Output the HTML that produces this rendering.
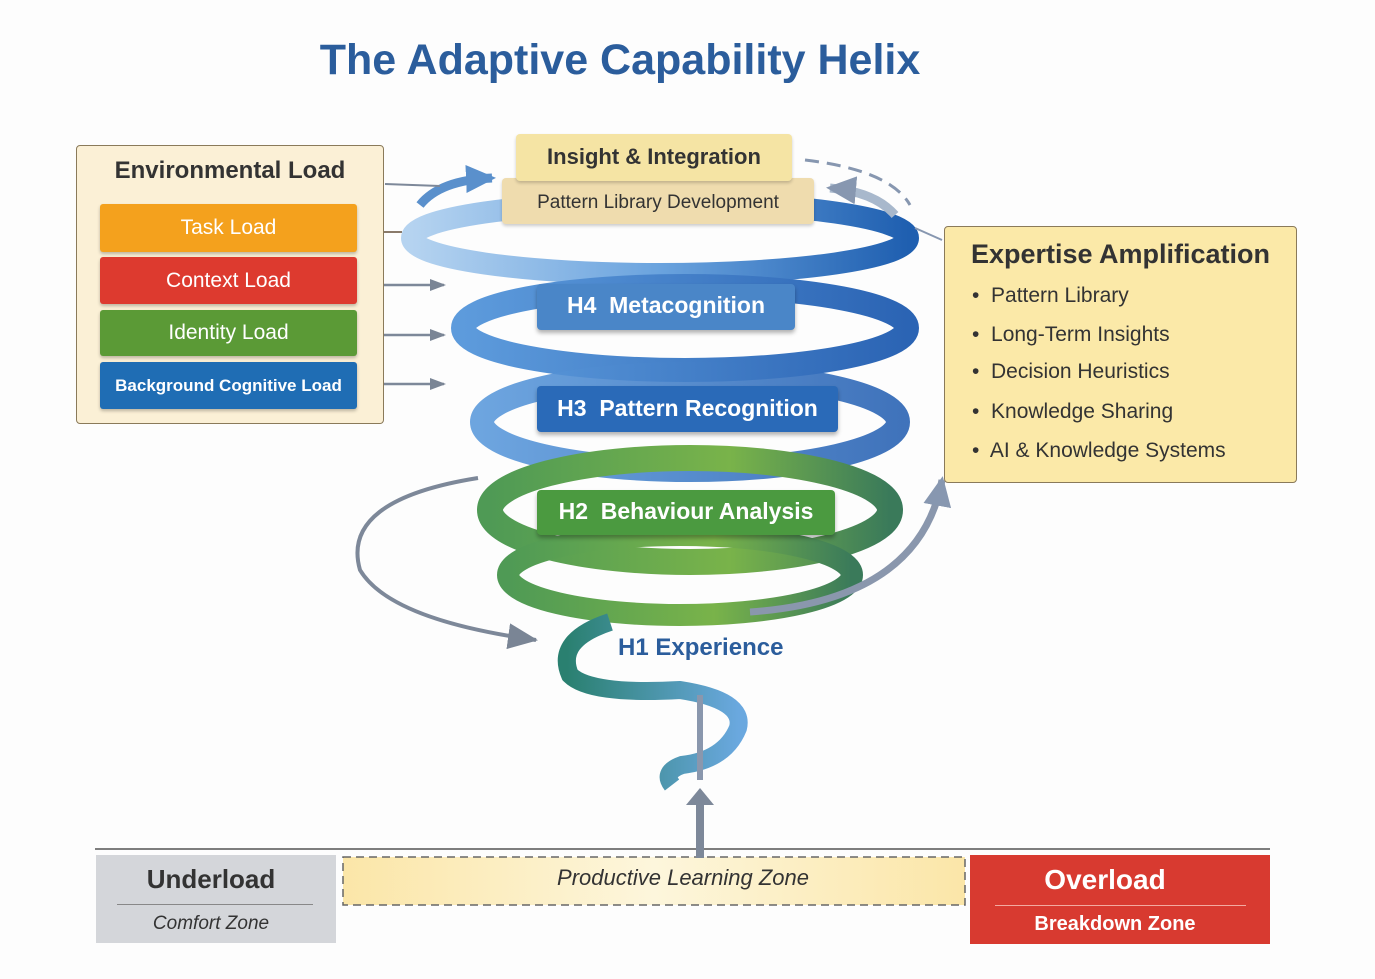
<!DOCTYPE html>
<html><head><meta charset="utf-8"><style>
html,body{margin:0;padding:0;background:#fdfdfd;}
body{width:1375px;height:979px;position:relative;overflow:hidden;font-family:"Liberation Sans",sans-serif;}
.abs{position:absolute;}
.bar{position:absolute;left:100px;width:257px;color:#fff;font-size:21px;text-align:center;border-radius:3px;box-shadow:0 2px 3px rgba(0,0,0,.25);}
.lbl{position:absolute;color:#fff;font-weight:bold;font-size:23px;border-radius:4px;box-shadow:0 3px 4px rgba(0,0,0,.3);}
.bul{position:absolute;left:972px;font-size:21px;color:#333;}
</style></head><body>
<svg class="abs" style="left:0;top:0" width="1375" height="979">
<defs>
<marker id="ah" markerUnits="userSpaceOnUse" markerWidth="16" markerHeight="14" refX="14" refY="7" orient="auto"><path d="M0,1 L16,7 L0,13 z" fill="#7a8595"/></marker>
<marker id="ahL" markerUnits="userSpaceOnUse" markerWidth="30" markerHeight="26" refX="28" refY="13" orient="auto"><path d="M0,0 L30,13 L0,26 z" fill="#7a8595"/></marker>
<marker id="ahb" markerUnits="userSpaceOnUse" markerWidth="30" markerHeight="28" refX="26" refY="14" orient="auto"><path d="M0,0 L30,14 L0,28 z" fill="#8797b0"/></marker>
<marker id="ahc" markerUnits="userSpaceOnUse" markerWidth="30" markerHeight="28" refX="26" refY="14" orient="auto"><path d="M0,0 L30,14 L0,28 z" fill="#5a90cc"/></marker>
<linearGradient id="blue" x1="0" x2="1"><stop offset="0" stop-color="#b5d3f0"/><stop offset="0.5" stop-color="#6aa3de"/><stop offset="1" stop-color="#1f5fb0"/></linearGradient>
<linearGradient id="blue2" x1="0" x2="1"><stop offset="0" stop-color="#5d9bdc"/><stop offset="1" stop-color="#2b64b4"/></linearGradient>
<linearGradient id="green" x1="0" x2="1"><stop offset="0" stop-color="#4f9a55"/><stop offset="0.6" stop-color="#79b34a"/><stop offset="1" stop-color="#3a7a5a"/></linearGradient>
<linearGradient id="teal" x1="0" x2="1"><stop offset="0" stop-color="#2a8070"/><stop offset="1" stop-color="#6aa8df"/></linearGradient>
<linearGradient id="pz" x1="0" x2="1"><stop offset="0" stop-color="#fbe6a8"/><stop offset="0.5" stop-color="#fdf6dc"/><stop offset="1" stop-color="#fbe6a8"/></linearGradient>
</defs>
<ellipse cx="660" cy="238" rx="248" ry="36" fill="none" stroke="url(#blue)" stroke-width="22"/>
<ellipse cx="685" cy="328" rx="222" ry="42" fill="none" stroke="url(#blue2)" stroke-width="24"/>
<ellipse cx="690" cy="422" rx="208" ry="48" fill="none" stroke="url(#blue2)" stroke-width="24" opacity="0.9"/>
<ellipse cx="690" cy="510" rx="200" ry="52" fill="none" stroke="url(#green)" stroke-width="26"/>
<ellipse cx="680" cy="575" rx="172" ry="40" fill="none" stroke="url(#green)" stroke-width="22"/>
<path d="M610,622 Q555,640 570,675 Q590,695 680,690 Q745,700 738,728 Q725,760 682,765 Q662,772 672,785" fill="none" stroke="url(#teal)" stroke-width="18"/>
<path d="M700,695 L700,780" stroke="#8a97ad" stroke-width="6"/>
<path d="M805,160 Q890,170 910,205" fill="none" stroke="#8797b0" stroke-width="3" stroke-dasharray="14 8"/>
<path d="M895,215 Q875,192 830,188" fill="none" stroke="#a8b8cc" stroke-width="9" marker-end="url(#ahb)"/>
<path d="M420,205 Q440,180 492,178" fill="none" stroke="#5a90cc" stroke-width="9" marker-end="url(#ahc)"/>
<path d="M478,478 Q340,500 360,570 Q390,620 536,640" fill="none" stroke="#7d8899" stroke-width="4" marker-end="url(#ahL)"/>
<path d="M750,612 Q920,600 942,480" fill="none" stroke="#8a97ad" stroke-width="7" marker-end="url(#ahb)"/>
<line x1="385" y1="184" x2="440" y2="186" stroke="#7d8899" stroke-width="2"/>
<line x1="362" y1="232" x2="402" y2="232" stroke="#8a7a6a" stroke-width="2"/>
<line x1="362" y1="285" x2="444" y2="285" stroke="#7d8899" stroke-width="2.5" marker-end="url(#ah)"/>
<line x1="362" y1="335" x2="444" y2="335" stroke="#7d8899" stroke-width="2.5" marker-end="url(#ah)"/>
<line x1="362" y1="384" x2="444" y2="384" stroke="#7d8899" stroke-width="2.5" marker-end="url(#ah)"/>
<line x1="82" y1="233" x2="95" y2="233" stroke="#8a7a6a" stroke-width="2"/>
<line x1="82" y1="285" x2="95" y2="285" stroke="#8a7a6a" stroke-width="2"/>
<line x1="82" y1="336" x2="95" y2="336" stroke="#8a7a6a" stroke-width="2"/>
<line x1="82" y1="386" x2="95" y2="386" stroke="#c9a040" stroke-width="2"/>
<line x1="915" y1="228" x2="942" y2="240" stroke="#8797b0" stroke-width="2"/>
<line x1="95" y1="849" x2="1270" y2="849" stroke="#555" stroke-width="1.5"/>
<rect x="343" y="857" width="622" height="48" fill="url(#pz)" stroke="#666" stroke-width="1.5" stroke-dasharray="8 5"/>
<path d="M700,858 L700,800" stroke="#7d8899" stroke-width="8"/>
<path d="M686,805 L700,788 L714,805 z" fill="#7d8899"/>
</svg>
<div class="abs" style="left:0;width:1240px;top:36px;text-align:center;font-size:43px;font-weight:bold;color:#2b5d9c;">The Adaptive Capability Helix</div>
<div class="abs" style="left:76px;top:145px;width:306px;height:277px;background:#fbf0d6;border:1.5px solid #8a7a5a;border-radius:4px;"></div>
<div class="abs" style="left:76px;width:308px;top:157px;text-align:center;font-size:24px;font-weight:bold;color:#333;">Environmental Load</div>
<div class="bar" style="top:204px;height:48px;line-height:48px;background:#f4a11d;">Task Load</div>
<div class="bar" style="top:257px;height:47px;line-height:47px;background:#dd3a2f;">Context Load</div>
<div class="bar" style="top:310px;height:46px;line-height:46px;background:#5b9a36;">Identity Load</div>
<div class="bar" style="top:362px;height:47px;line-height:47px;background:#1f6db4;font-size:17px;font-weight:bold;">Background Cognitive Load</div>
<div class="abs" style="left:502px;top:178px;width:312px;height:46px;line-height:50px;background:#efdcae;border-radius:4px;text-align:center;font-size:19px;color:#333;box-shadow:0 2px 3px rgba(0,0,0,.2);">Pattern Library Development</div>
<div class="abs" style="left:516px;top:134px;width:276px;height:47px;line-height:46px;background:#f5e4a4;border-radius:4px;text-align:center;font-size:22px;font-weight:bold;color:#333;box-shadow:0 2px 3px rgba(0,0,0,.2);">Insight &amp; Integration</div>
<div class="lbl" style="left:537px;top:284px;width:258px;height:46px;line-height:42px;text-align:center;background:#4a86c8;">H4&nbsp; Metacognition</div>
<div class="lbl" style="left:537px;top:386px;width:301px;height:46px;line-height:44px;text-align:center;background:#2a6ab8;">H3&nbsp; Pattern Recognition</div>
<div class="lbl" style="left:537px;top:490px;width:298px;height:45px;line-height:42px;text-align:center;background:#4b9a40;">H2&nbsp; Behaviour Analysis</div>
<div class="abs" style="left:618px;top:634px;font-size:24px;font-weight:bold;color:#2b5d9c;">H1 Experience</div>
<div class="abs" style="left:944px;top:226px;width:351px;height:255px;background:#fbe9a8;border:1.5px solid #8a7a5a;border-radius:4px;"></div>
<div class="abs" style="left:944px;width:353px;top:239px;text-align:center;font-size:27px;font-weight:bold;color:#333;">Expertise Amplification</div>
<div class="bul" style="top:284px;">•&nbsp; Pattern Library</div>
<div class="bul" style="top:323px;">•&nbsp; Long-Term Insights</div>
<div class="bul" style="top:360px;">•&nbsp; Decision Heuristics</div>
<div class="bul" style="top:400px;">•&nbsp; Knowledge Sharing</div>
<div class="bul" style="top:439px;">•&nbsp; AI &amp; Knowledge Systems</div>
<div class="abs" style="left:96px;top:855px;width:240px;height:88px;background:#d4d6da;"></div>
<div class="abs" style="left:96px;width:230px;top:864px;text-align:center;font-size:26px;font-weight:bold;color:#333;">Underload</div>
<div class="abs" style="left:117px;top:904px;width:196px;border-top:1px solid #888;"></div>
<div class="abs" style="left:96px;width:230px;top:913px;text-align:center;font-size:19px;font-style:italic;color:#333;">Comfort Zone</div>
<div class="abs" style="left:343px;width:680px;top:865px;text-align:center;font-size:22px;font-style:italic;color:#333;">Productive Learning Zone</div>
<div class="abs" style="left:970px;top:855px;width:300px;height:89px;background:#d83a30;"></div>
<div class="abs" style="left:970px;width:270px;top:864px;text-align:center;font-size:28px;font-weight:bold;color:#fff;">Overload</div>
<div class="abs" style="left:995px;top:905px;width:251px;border-top:1px solid #f3aaa0;"></div>
<div class="abs" style="left:970px;width:290px;top:913px;text-align:center;font-size:20px;font-weight:bold;color:#fff;">Breakdown Zone</div>
</body></html>
